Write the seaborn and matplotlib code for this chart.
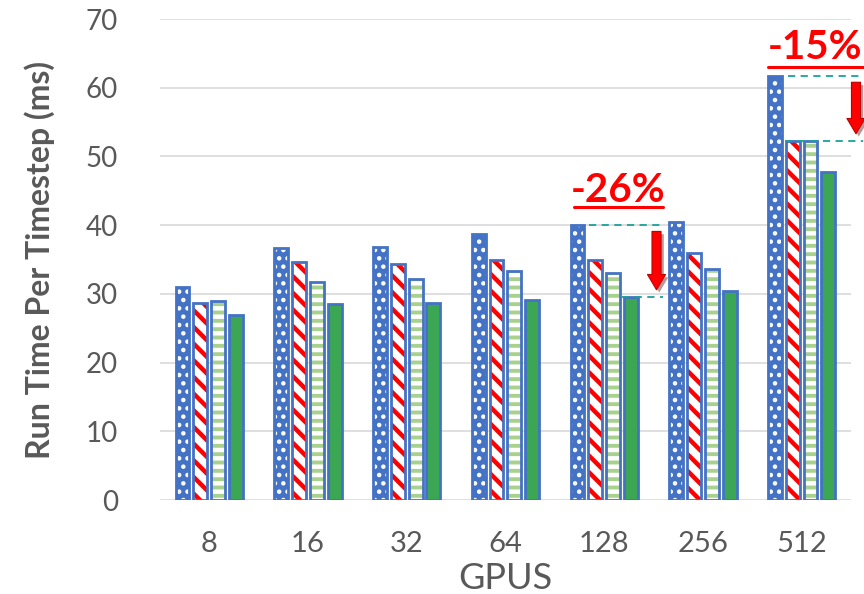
import pandas as pd
import seaborn as sns
import matplotlib.pyplot as plt
import matplotlib.patheffects as pe
from matplotlib.patches import Rectangle

# run time per timestep (ms)
gpus = ["8", "16", "32", "64", "128", "256", "512"]
series_a = [31.0, 36.7, 36.9, 38.7, 40.0, 40.4, 61.7]
series_b = [28.7, 34.6, 34.3, 35.0, 35.0, 35.9, 52.3]
series_c = [29.0, 31.7, 32.2, 33.4, 33.1, 33.7, 52.3]
series_d = [27.0, 28.5, 28.7, 29.1, 29.6, 30.4, 47.8]
names = ["A", "B", "C", "D"]

rows = []
for name, vals in zip(names, [series_a, series_b, series_c, series_d]):
    for g, v in zip(gpus, vals):
        rows.append({"GPUS": g, "time": v, "run": name})
df = pd.DataFrame(rows)

sns.set_style("white")
plt.rcParams['font.family'] = ['Lato', 'DejaVu Sans']
plt.rcParams['hatch.linewidth'] = 3.0

fig = plt.figure(figsize=(8.64, 5.94), dpi=100)
ax = fig.add_axes([0.185, 0.158, 0.80, 0.81])

blue = "#4472C4"
face = {"A": blue, "B": "white", "C": "white", "D": "#3BA654"}
hatchc = {"A": "white", "B": "#FF0000", "C": "#A9D18E", "D": blue}
hatch = {"A": "..", "B": "\\\\", "C": "--", "D": None}
hlw = {"A": 2.0, "B": 3.2, "C": 2.8, "D": 1.0}

sns.barplot(data=df, x="GPUS", y="time", hue="run", order=gpus, hue_order=names,
            width=0.72, gap=0.22, legend=False, ax=ax, palette=face)

for name, cont in zip(names, ax.containers):
    for p in cont:
        p.set_facecolor(face[name])
        p.set_edgecolor(hatchc[name])
        p.set_linewidth(0)
        if hatch[name]:
            p.set_hatch(hatch[name])
            if hasattr(p, "set_hatch_linewidth"):
                p.set_hatch_linewidth(hlw[name])
        # blue outline on top
        ax.add_patch(Rectangle(p.get_xy(), p.get_width(), p.get_height(),
                               fill=False, edgecolor=blue, linewidth=2, zorder=3))

ax.set_ylim(0, 70)
ax.set_xlim(-0.5, 6.5)
ax.set_yticks(range(0, 71, 10))
ax.yaxis.grid(True, color="#D9D9D9", linewidth=1.2)
ax.set_axisbelow(True)
for s in ax.spines.values():
    s.set_visible(False)
ax.tick_params(axis="y", length=0, labelsize=20, labelcolor="#595959", pad=30)
ax.tick_params(axis="x", length=0, labelsize=21, labelcolor="#595959", pad=22)
ax.set_ylabel("Run Time Per Timestep (ms)", fontsize=23, fontweight="bold", color="#595959", labelpad=22)
ax.set_xlabel("GPUS", fontsize=26, color="#595959", labelpad=4)

# annotations
teal = "#1AA39A"
def reduction(label, x_text, y_text, ul_y, ul_x0, ul_x1, top, bot, top_x0, bot_x0, x_end, x_arrow):
    ax.text(x_text, y_text, label, color="#FF0000", fontsize=29, fontweight="bold",
            ha="center", va="center", clip_on=False)
    ax.plot([ul_x0, ul_x1], [ul_y, ul_y], color="#FF0000", lw=2.2, clip_on=False, zorder=4)
    ax.plot([top_x0, x_end], [top, top], ls=(0, (4, 3)), color=teal, lw=1.3, clip_on=False, zorder=4)
    ax.plot([bot_x0, x_end], [bot, bot], ls=(0, (4, 3)), color=teal, lw=1.3, clip_on=False, zorder=4)
    an = ax.annotate("", xy=(x_arrow, bot + 0.6), xytext=(x_arrow, top - 0.5),
                     arrowprops=dict(arrowstyle="simple,head_width=1.3,head_length=1.1,tail_width=0.65",
                                     facecolor="#FF0000", edgecolor="#C00000", lw=0.8),
                     annotation_clip=False, zorder=5)
    an.arrow_patch.set_path_effects([pe.SimplePatchShadow(offset=(2, -2), alpha=0.4), pe.Normal()])

reduction("-26%", 4.14, 45.0, 42.6, 3.69, 4.6, series_a[4], series_d[4], 3.85, 4.18, 4.6, 4.53)
reduction("-15%", 6.14, 65.8, 63.0, 5.66, 6.62, series_a[6], series_b[6], 5.86, 5.83, 6.62, 6.55)

fig.savefig("out.png", dpi=100)
